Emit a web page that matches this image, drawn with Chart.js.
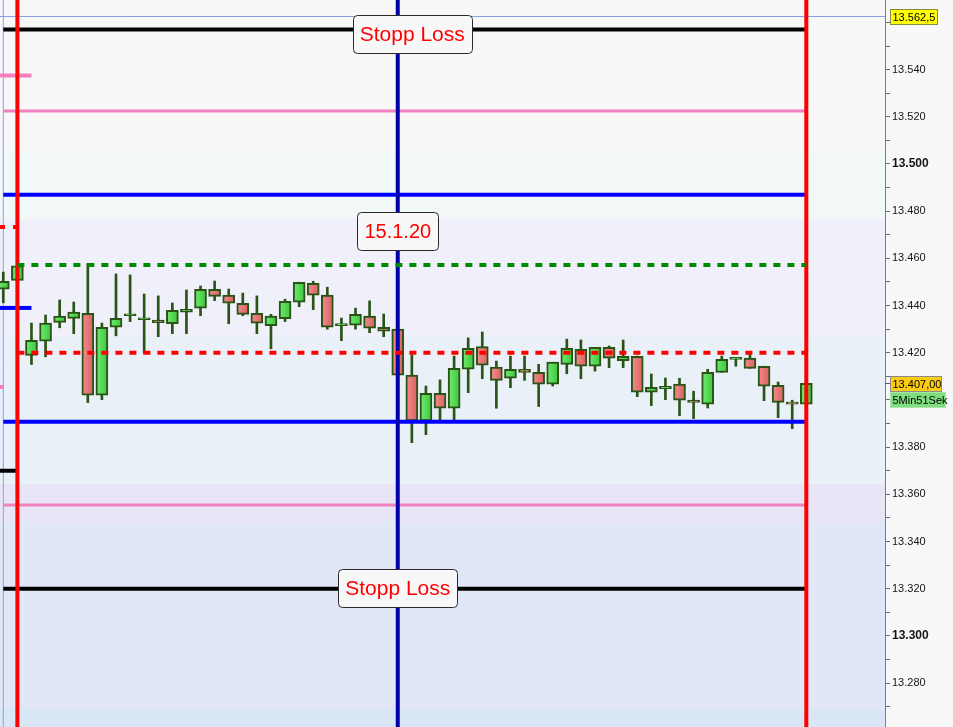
<!DOCTYPE html>
<html><head><meta charset="utf-8">
<script src="https://cdn.jsdelivr.net/npm/chart.js@4.4.0/dist/chart.umd.min.js"></script>
<style>html,body{margin:0;padding:0;background:#f8f8f8;overflow:hidden}canvas{display:block}</style>
</head><body><canvas id="c" width="953" height="727"></canvas>
<script>
// ---- candle data (5-minute bars, index = bar number) ----
const opens  = [13446.9,13450.7,13418.9,13424.9,13432.9,13434.6,13436.7,13402.0,13430.8,13435.7,
                13434.0,13433.9,13432.3,13437.2,13438.9,13446.9,13444.4,13441.0,13436.7,13431.5,
                13434.4,13441.4,13449.4,13444.4,13431.5,13431.7,13435.5,13430.8,13430.0,13410.5,
                13391.1,13402.8,13396.5,13413.0,13422.6,13413.9,13409.2,13413.0,13411.7,13406.7,
                13415.1,13421.5,13414.3,13422.3,13416.7,13418.5,13403.3,13404.8,13406.7,13399.9,
                13398.2,13411.7,13417.2,13417.7,13414.3,13406.2,13399.0,13398.2];
const highs  = [13454.2,13457.5,13432.6,13436.0,13442.4,13441.5,13457.9,13432.6,13453.4,13453.0,
                13444.9,13444.1,13441.1,13446.6,13448.3,13450.4,13447.0,13445.3,13444.1,13436.3,
                13442.7,13449.9,13450.3,13447.8,13434.7,13438.9,13442.0,13436.4,13430.5,13419.1,
                13405.9,13408.5,13418.6,13426.3,13428.8,13416.5,13418.6,13418.6,13415.1,13416.0,
                13425.8,13425.4,13422.3,13422.9,13425.4,13418.6,13411.0,13409.3,13409.2,13403.7,
                13413.0,13418.6,13417.9,13419.8,13414.3,13407.6,13399.9,13407.0];
const lows   = [13441.2,13450.2,13415.0,13418.3,13430.6,13428.1,13398.9,13400.1,13427.2,13433.2,
                13419.8,13426.8,13428.1,13428.1,13435.7,13442.1,13432.3,13435.7,13428.1,13421.7,
                13433.2,13439.5,13438.3,13430.0,13425.1,13430.0,13428.5,13426.8,13410.0,13381.9,
                13385.3,13391.5,13390.8,13403.1,13409.0,13396.5,13405.2,13408.3,13397.2,13405.9,
                13411.1,13409.0,13412.2,13413.7,13413.7,13401.4,13397.6,13400.1,13393.3,13392.1,
                13396.6,13411.7,13414.3,13413.4,13399.7,13392.5,13387.8,13398.2];
const closes = [13450.3,13456.8,13425.3,13432.6,13435.5,13437.2,13402.0,13430.8,13434.6,13435.7,
                13434.0,13432.8,13438.0,13438.4,13446.9,13443.9,13441.0,13436.3,13432.5,13435.5,
                13441.8,13449.9,13444.4,13430.8,13431.5,13436.3,13430.4,13429.1,13410.5,13391.1,
                13402.8,13396.5,13413.4,13421.9,13414.7,13408.3,13413.0,13411.7,13406.7,13416.0,
                13421.9,13414.3,13422.3,13417.7,13418.5,13403.3,13405.4,13405.8,13399.9,13399.0,
                13411.7,13417.2,13417.2,13413.4,13405.8,13399.0,13398.2,13407.0];

// ---- levels (index points) ----
const stopLossLevels   = [13557, 13320];      // black, bar 0..57
const pinkLevels       = [13522.5, 13355.5];  // pink, bar 0..57
const blueLevels       = [13487, 13390.8];    // blue, bar 0..57
const greenDottedLevels= [13457.2];           // bar 1..57
const redDottedLevels  = [13420];             // bar 1..57
const priorPinkLevels  = [13537.5];           // left stubs to bar 2
const priorBlueLevels  = [13439];             // left stubs to bar 2
const priorBlackLevels = [13370];             // left stub to bar 1
const priorRedDotted   = [13473.3];           // left stub to bar 1
const priorPinkTiny    = [13405.5];           // left stub to bar 0
const redVerticalBars  = [1, 57];
const blueVerticalBars = [28];
const crosshairBar = 0, crosshairPrice = 13562.5;
const lastPrice = 13407.0;
const lastPriceLabel = '13.407,00', crosshairLabel = '13.562,5', timerLabel = '5Min51Sek';
const bandEdges  = [13569.5, 13505.9, 13476.7, 13427.1, 13364.4, 13348.3, 13269.1, 13261.4];
const bandColors = ['#f8f8f8','#f1f8f7','#eff0f9','#e9f0f8','#e8e6f6','#e1e7f6','#d9e6f6'];
const notes = [
  {text:'Stopp Loss', x:29.03, y:13555.0, size:21},
  {text:'15.1.20',    x:28,    y:13471.4, size:20},
  {text:'Stopp Loss', x:28,    y:13320.3, size:21}
];

const yMin = 13261.4, yMax = 13569.5, xMin = -0.234, xMax = 62.586;
const FONT = "'Liberation Sans', Arial, sans-serif";

function seg(x0, x1, y, color, width, dash, order) {
  return {type:'line', data:[{x:x0,y:y},{x:x1,y:y}], borderColor:color, borderWidth:width,
    borderDash:dash||[], pointRadius:0, order:order, borderCapStyle:'butt'};
}
function vseg(x, color, width, order) {
  return {type:'line', data:[{x:x,y:yMin},{x:x,y:yMax}], borderColor:color, borderWidth:width,
    pointRadius:0, order:order, borderCapStyle:'butt'};
}

const datasets = [];
datasets.push(seg(xMin, xMax, crosshairPrice, '#86a2e6', 1, null, 20));
datasets.push(vseg(crosshairBar, '#86a2e6', 1, 20));
datasets.push({type:'bar', data: opens.map((o,i)=>({x:i, y:[lows[i], highs[i]]})),
  backgroundColor:'#2a5316', barThickness:2, grouped:false, order:12, borderWidth:0});
datasets.push({type:'bar', data: opens.map((o,i)=>({x:i, y:[o, closes[i]]})),
  grouped:false, order:11, barThickness:12, minBarLength:2, borderWidth:2, borderSkipped:false,
  borderColor:'#2a5316',
  backgroundColor:(c)=>{
    const i = c.dataIndex; const up = closes[i] >= opens[i];
    const flat = up ? '#55d855' : '#ea7474';
    const xs = c.chart.scales && c.chart.scales.x;
    if (!xs || i === undefined) return flat;
    const cx = xs.getPixelForValue(i);
    if (!isFinite(cx)) return flat;
    const g = c.chart.ctx.createLinearGradient(cx-6, 0, cx+6, 0);
    g.addColorStop(0, up ? '#72ec72' : '#f28e8e');
    g.addColorStop(1, up ? '#3cc43c' : '#da6060');
    return g;
  }});
stopLossLevels.forEach(v=>datasets.push(seg(0, 57, v, '#000000', 4, null, 9)));
pinkLevels.forEach(v=>datasets.push(seg(0, 57, v, '#f47fbf', 3, null, 9)));
blueLevels.forEach(v=>datasets.push(seg(0, 57, v, '#0000ff', 4, null, 9)));
priorPinkLevels.forEach(v=>datasets.push(seg(xMin, 2, v, '#f47fbf', 4, null, 9)));
priorBlueLevels.forEach(v=>datasets.push(seg(xMin, 2, v, '#0000ff', 4, null, 9)));
priorBlackLevels.forEach(v=>datasets.push(seg(xMin, 1, v, '#000000', 4, null, 9)));
priorPinkTiny.forEach(v=>datasets.push(seg(xMin, 0, v, '#f47fbf', 4, null, 9)));
redVerticalBars.forEach(x=>datasets.push(vseg(x, '#ff0000', 4, 8)));
blueVerticalBars.forEach(x=>datasets.push(vseg(x, '#0000aa', 4, 8)));
greenDottedLevels.forEach(v=>datasets.push(seg(1, 57, v, '#008a00', 4, [7,7], 7)));
redDottedLevels.forEach(v=>datasets.push(seg(1, 57, v, '#ff0000', 4, [7,7], 7)));
priorRedDotted.forEach(v=>datasets.push(seg(xMin, 1, v, '#ff0000', 4, [5,8], 7)));

function fmtTick(v){ const s = String(Math.round(v)); return s.slice(0,-3)+'.'+s.slice(-3); }

function roundRect(ctx, x, y, w, h, r){
  ctx.beginPath(); ctx.moveTo(x+r,y); ctx.lineTo(x+w-r,y); ctx.quadraticCurveTo(x+w,y,x+w,y+r);
  ctx.lineTo(x+w,y+h-r); ctx.quadraticCurveTo(x+w,y+h,x+w-r,y+h); ctx.lineTo(x+r,y+h);
  ctx.quadraticCurveTo(x,y+h,x,y+h-r); ctx.lineTo(x,y+r); ctx.quadraticCurveTo(x,y,x+r,y); ctx.closePath();
}

const bgPlugin = {
  id:'bands',
  beforeDraw(chart){
    const {ctx, chartArea:a, scales:{y}} = chart;
    ctx.save(); ctx.fillStyle = '#f8f8f8'; ctx.fillRect(0,0,chart.width,chart.height);
    for (let i=0;i<bandColors.length;i++){
      const t = y.getPixelForValue(bandEdges[i]), b = y.getPixelForValue(bandEdges[i+1]);
      ctx.fillStyle = bandColors[i]; ctx.fillRect(a.left, Math.round(t), a.right-a.left, Math.round(b)-Math.round(t));
    }
    ctx.restore();
  },
  afterDraw(chart){
    const {ctx, scales:{x, y}} = chart;
    ctx.save();
    notes.forEach(n=>{
      ctx.font = n.size + 'px ' + FONT;
      const w = ctx.measureText(n.text).width + 14, h = 38;
      const cx = x.getPixelForValue(n.x), cy = y.getPixelForValue(n.y);
      const bx = Math.round(cx - w/2)+0.5, by = Math.round(cy - h/2)+0.5;
      roundRect(ctx, bx, by, Math.round(w), h, 4);
      ctx.fillStyle = '#f8f8f8'; ctx.fill(); ctx.lineWidth = 1; ctx.strokeStyle = '#2a2a2a'; ctx.stroke();
      ctx.fillStyle = '#ff0000'; ctx.textAlign='center'; ctx.textBaseline='middle';
      ctx.fillText(n.text, cx, cy+1);
    });
    const axX = y.left;
    function box(text, cy, w, fill, stroke){
      const h = 15, bx = axX + 5.5, by = Math.round(cy - h/2) + 0.5;
      ctx.fillStyle = fill; ctx.fillRect(bx, by, w, h);
      ctx.strokeStyle = stroke; ctx.lineWidth = 1; ctx.strokeRect(bx, by, w, h);
      ctx.fillStyle = '#000'; ctx.font = '11px ' + FONT; ctx.textAlign='left'; ctx.textBaseline='middle';
      ctx.fillText(text, bx + 2, by + h/2 + 0.5);
      return by + h;
    }
    box(crosshairLabel, y.getPixelForValue(crosshairPrice), 47, '#ffff00', '#8a8a40');
    const py = y.getPixelForValue(lastPrice);
    ctx.strokeStyle = '#4a5a70'; ctx.beginPath(); ctx.moveTo(axX, Math.round(py)+0.5); ctx.lineTo(axX+5, Math.round(py)+0.5); ctx.stroke();
    const bottom = box(lastPriceLabel, py, 51, '#fccc14', '#8a8a8a');
    box(timerLabel, bottom + 8, 55, '#7fdc7f', '#a8e8a8');
    ctx.restore();
  }
};

new Chart(document.getElementById('c'), {
  type:'bar',
  data:{datasets},
  options:{
    responsive:false, animation:false, devicePixelRatio:1,
    layout:{padding:0},
    plugins:{legend:{display:false}, tooltip:{enabled:false}},
    scales:{
      x:{type:'linear', display:false, min:xMin, max:xMax, offset:false},
      y:{position:'right', min:yMin, max:yMax,
         border:{display:true, color:'#6f7f95', width:1},
         grid:{drawOnChartArea:false, drawTicks:true, tickLength:5, color:'#5f6f85'},
         ticks:{stepSize:10, includeBounds:false, padding:2, autoSkip:false, color:'#151515',
           callback:(v)=> (Math.round(v) % 20 === 0) ? fmtTick(v) : '',
           font:(c)=>{ const v = c.tick ? Math.round(c.tick.value) : 0;
             return (v % 100 === 0) ? {family:FONT, size:12, weight:'bold'} : {family:FONT, size:11}; }},
         afterFit:(s)=>{ s.width = 68; s.paddingTop = 0; s.paddingBottom = 0; }
      }
    }
  },
  plugins:[bgPlugin]
});
</script>
</body></html>
